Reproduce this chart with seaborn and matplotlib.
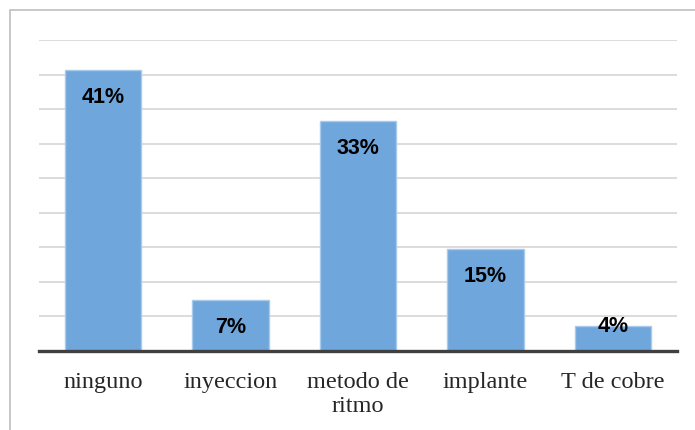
import numpy as np
import pandas as pd
import matplotlib
matplotlib.use("Agg")
import matplotlib.pyplot as plt
import seaborn as sns
from matplotlib.patches import Rectangle

# metodos anticonceptivos (porcentaje)
metodos = ["ninguno", "inyeccion", "metodo de\nritmo", "implante", "T de cobre"]
porcentajes = [40.7, 7.4, 33.3, 14.8, 3.6]
etiquetas = ["41%", "7%", "33%", "15%", "4%"]

df = pd.DataFrame({"metodo": metodos, "pct": porcentajes})

sns.set_style("white")

fig = plt.figure(figsize=(6.95, 4.30), dpi=100)
ax = fig.add_axes([39/695, 1 - 351/430, (677-39)/695, (351-40)/430])

sns.barplot(data=df, x="metodo", y="pct", color="#6FA6DB", saturation=1,
            width=0.6, edgecolor="#A9CBEB", linewidth=1, ax=ax)

ax.set_ylim(0, 45)
ax.set_xlim(-0.5, 4.5)
ax.set_yticks(np.arange(5, 50, 5))
ax.yaxis.grid(True, color="#D9D9D9", linewidth=1.3)
ax.set_axisbelow(True)
ax.set_yticklabels([])
ax.tick_params(axis="y", length=0)
ax.tick_params(axis="x", length=0, pad=15)
for lbl in ax.get_xticklabels():
    lbl.set_fontfamily("Liberation Serif")
    lbl.set_fontsize(17.5)
    lbl.set_linespacing(1.2)
ax.set_xlabel("")
ax.set_ylabel("")

for s in ["top", "right", "left"]:
    ax.spines[s].set_visible(False)
ax.spines["bottom"].set_color("#404040")
ax.spines["bottom"].set_linewidth(2.4)

for i, (v, t) in enumerate(zip(porcentajes, etiquetas)):
    yy = v - 4.0 if v > 5 else v
    ax.text(i, yy, t, ha="center", va="center", fontsize=15.5, fontweight="bold",
            family="Liberation Sans", color="black")

# borde del grafico
fig.patches.append(Rectangle((10/695, -0.2), 1.0, 1.2 - 10/430,
                             transform=fig.transFigure, fill=False,
                             edgecolor="#BFBFBF", linewidth=1.2))

fig.savefig("out.png", dpi=100)
